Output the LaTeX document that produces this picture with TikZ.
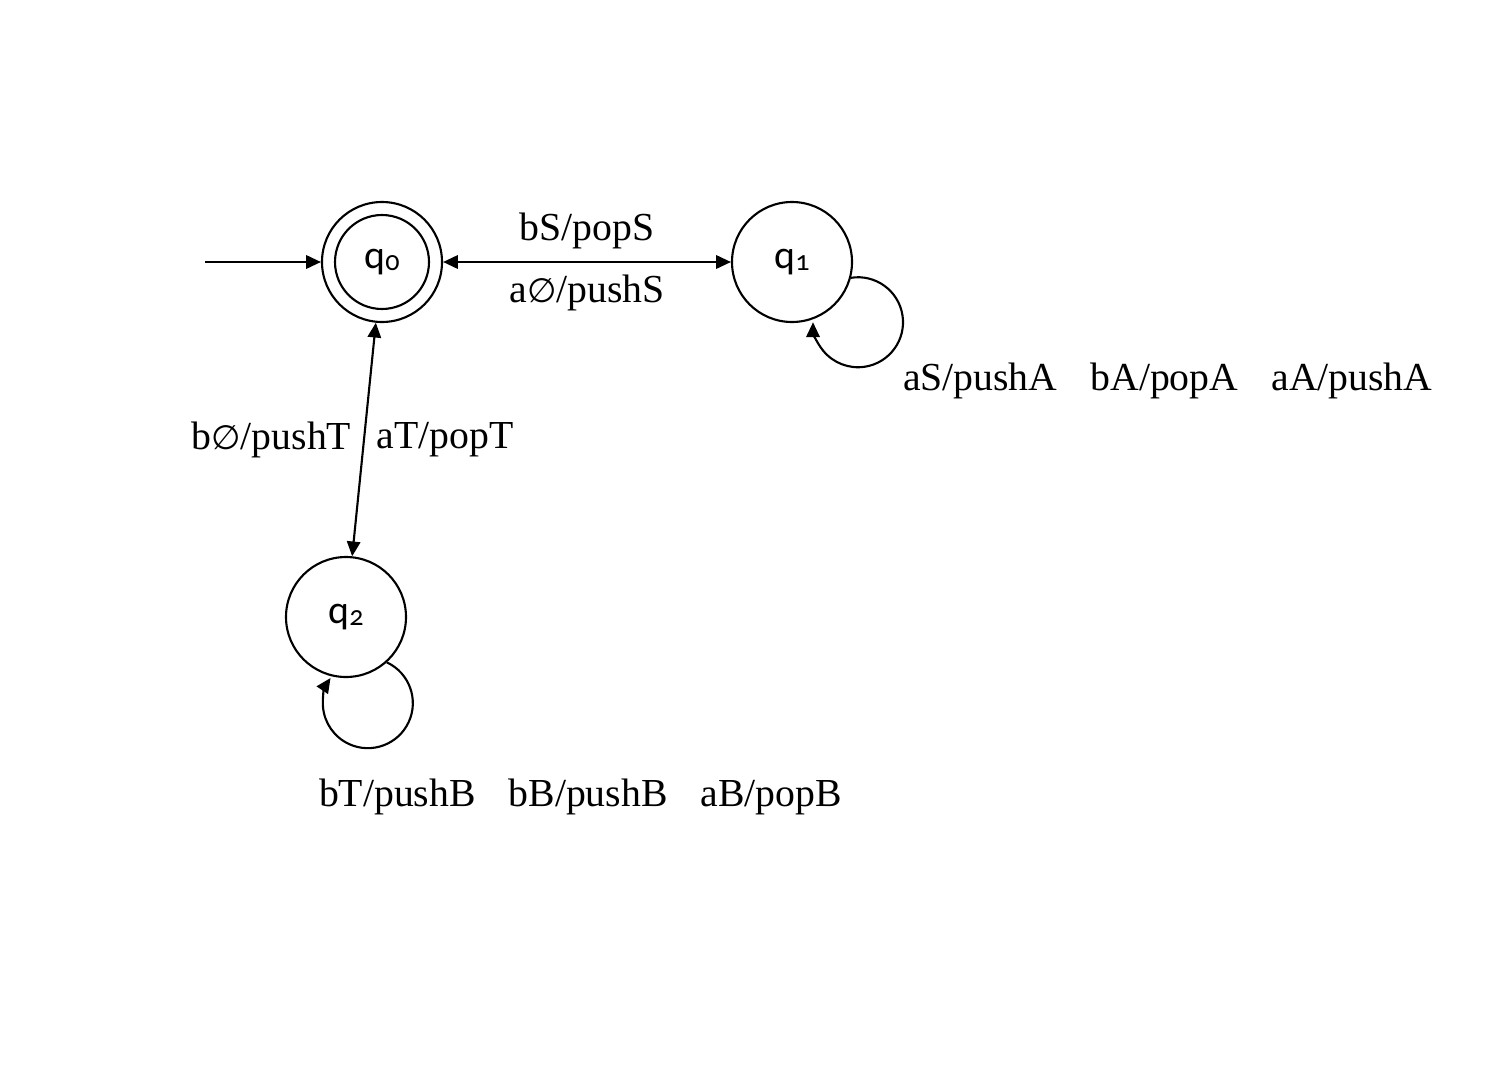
\documentclass[tikz,border=0pt]{standalone}
\usepackage{fontspec}
\setmainfont{Liberation Serif}
\newfontfamily\qfont[Numbers=OldStyle]{Carlito}
\newfontfamily\symfont[Scale=0.85]{DejaVu Sans}
\usetikzlibrary{arrows.meta}
\newcommand{\qname}[1]{{\qfont q\raisebox{-0.1ex}{\fontsize{8}{9}\selectfont #1}}}
\newcommand{\emptystack}{{\symfont ∅}}
\newcommand{\lgap}{\hspace{9.4pt}}

\begin{document}
\begin{tikzpicture}[font=\fontsize{11.3}{13.5}\selectfont,line width=0.6pt,
  >={Triangle[length=4.2pt,width=3.8pt]},
  st/.style={draw,circle,minimum size=1.2cm,inner sep=0pt}]
\useasboundingbox (0,0) rectangle (15.10,10.64);
\node[st] (q0) at (3.82,8.02){\qname{0}};
\node[draw,circle,minimum size=0.94cm] (q0in) at (q0){};
\node[st] (q1) at (7.92,8.02){\qname{1}};
\node[st] (q2) at (3.46,4.47){\qname{2}};
\coordinate (start) at (2.05,8.02);
\draw [->](start) -- (q0);
\draw [<->](q0) -- node[above]{bS/popS} node[below]{a\emptystack/pushS} (q1);
\draw [<->](q0) -- node[left]{b\emptystack/pushT} node[right]{aT/popT} (q2);
\draw [->](q1.-15) arc[start angle=99,end angle=-180,radius=0.45cm];
\draw [->](q2.-48) arc[start angle=65,end angle=-214,radius=0.45cm];
\node[anchor=west,inner sep=0pt] (l1) at (9.02,6.83){aS/pushA\lgap bA/popA\lgap aA/pushA};
\node[anchor=west,inner sep=0pt] (l2) at (3.18,2.67){bT/pushB\lgap bB/pushB\lgap aB/popB};
\end{tikzpicture}
\end{document}
